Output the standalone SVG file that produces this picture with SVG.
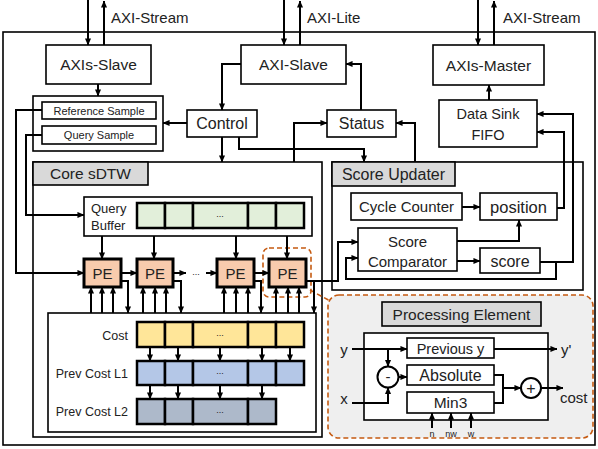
<svg xmlns="http://www.w3.org/2000/svg" width="598" height="449" viewBox="0 0 598 449">
<defs>
<marker id="ah" viewBox="0 0 8 8" refX="7.5" refY="4" markerWidth="7" markerHeight="7" markerUnits="userSpaceOnUse" orient="auto"><path d="M0,0.5 L8,4 L0,7.5z" fill="#000"/></marker>
<style>
.bx{fill:#fff;stroke:#000;stroke-width:1.6}
.lb{fill:#d9d9d9;stroke:#000;stroke-width:1.6}
.cell{stroke:#000;stroke-width:2.5}
.pe{fill:#f8cbad;stroke:#000;stroke-width:3}
.c{fill:none;stroke:#000;stroke-width:2}
.a{marker-end:url(#ah)}
.t{font-family:"Liberation Sans",Arial,sans-serif;fill:#222}
.m{text-anchor:middle}
.e{text-anchor:end}
.dash{fill:none;stroke:#c55a11;stroke-width:1.6;stroke-dasharray:5,3}
</style>
</defs>
<rect x="3" y="32" width="592" height="413" fill="#fff" stroke="#000" stroke-width="1.6"/>
<text class="t" x="111" y="23" font-size="15">AXI-Stream</text>
<text class="t" x="307" y="23" font-size="15">AXI-Lite</text>
<text class="t" x="503" y="23" font-size="15">AXI-Stream</text>

<g id="axis-slave"><rect class="bx" x="46" y="45" width="105" height="39"/><text class="t m" x="98.5" y="70" font-size="15.5">AXIs-Slave</text></g>
<g id="axi-slave"><rect class="bx" x="241" y="45" width="105" height="39"/><text class="t m" x="293.5" y="70" font-size="15.5">AXI-Slave</text></g>
<g id="axis-master"><rect class="bx" x="433" y="45" width="111" height="40"/><text class="t m" x="488.5" y="70.5" font-size="15.5">AXIs-Master</text></g>
<g id="samples">
<rect class="bx" x="33" y="96" width="130" height="55"/>
<rect class="bx" x="42" y="102" width="114" height="17"/><text class="t m" x="99" y="114.5" font-size="11">Reference Sample</text>
<rect class="bx" x="42" y="126" width="114" height="18"/><text class="t m" x="99" y="139" font-size="11">Query Sample</text>
</g>
<g id="control"><rect class="bx" x="187" y="110" width="70" height="27"/><text class="t m" x="222" y="129" font-size="16">Control</text></g>
<g id="status"><rect class="bx" x="327" y="110" width="69" height="27"/><text class="t m" x="361.5" y="129" font-size="16">Status</text></g>
<g id="fifo"><rect class="bx" x="439" y="100" width="98" height="47"/><text class="t m" x="488" y="119" font-size="14.5">Data Sink</text><text class="t m" x="488" y="140" font-size="14.5">FIFO</text></g>

<g id="core-sdtw">
<rect class="bx" x="33" y="162" width="289" height="275"/>
<rect class="lb" x="33" y="162" width="115" height="23"/>
<text class="t m" x="90.5" y="179" font-size="15.5">Core sDTW</text>
</g>
<g id="query-buffer">
<rect class="bx" x="84" y="197" width="228" height="39"/>
<text class="t" x="91" y="212.5" font-size="13">Query</text>
<text class="t" x="91" y="229.5" font-size="13">Buffer</text>
<g fill="#e2efda"><rect class="cell" x="137" y="203" width="28" height="25"/><rect class="cell" x="165" y="203" width="28" height="25"/><rect class="cell" x="193" y="203" width="55" height="25"/><rect class="cell" x="248" y="203" width="28" height="25"/><rect class="cell" x="276" y="203" width="28" height="25"/></g>
<text class="t m" x="220" y="217" font-size="9">...</text>
</g>
<g id="pe1"><rect class="pe" x="84" y="259" width="37" height="28"/><text class="t m" x="102.5" y="278.5" font-size="15">PE</text></g>
<g id="pe2"><rect class="pe" x="137" y="259" width="36" height="28"/><text class="t m" x="155" y="278.5" font-size="15">PE</text></g>
<g id="pe3"><rect class="pe" x="217" y="259" width="37" height="28"/><text class="t m" x="235.5" y="278.5" font-size="15">PE</text></g>
<g id="pe4"><rect class="pe" x="269" y="259" width="37" height="28"/><text class="t m" x="287.5" y="278.5" font-size="15">PE</text></g>
<text class="t m" x="196" y="275" font-size="9">...</text>
<g id="cost-memory">
<rect class="bx" x="48" y="313" width="268" height="119"/>
<text class="t e" x="128" y="339.5" font-size="12.5">Cost</text>
<text class="t e" x="128" y="377.5" font-size="12.5">Prev Cost L1</text>
<text class="t e" x="128" y="415.5" font-size="12.5">Prev Cost L2</text>
<g fill="#ffe699"><rect class="cell" x="137" y="322" width="28" height="25"/><rect class="cell" x="165" y="322" width="28" height="25"/><rect class="cell" x="193" y="322" width="55" height="25"/><rect class="cell" x="248" y="322" width="28" height="25"/><rect class="cell" x="276" y="322" width="28" height="25"/></g>
<g fill="#b4c7e7"><rect class="cell" x="137" y="361" width="28" height="24"/><rect class="cell" x="165" y="361" width="28" height="24"/><rect class="cell" x="193" y="361" width="55" height="24"/><rect class="cell" x="248" y="361" width="28" height="24"/><rect class="cell" x="276" y="361" width="28" height="24"/></g>
<g fill="#adb9ca"><rect class="cell" x="137" y="399" width="28" height="25"/><rect class="cell" x="165" y="399" width="28" height="25"/><rect class="cell" x="193" y="399" width="55" height="25"/><rect class="cell" x="248" y="399" width="28" height="25"/></g>
<text class="t m" x="220" y="336" font-size="9">...</text>
<text class="t m" x="220" y="374" font-size="9">...</text>
<text class="t m" x="220" y="413" font-size="9">...</text>
</g>

<g id="score-updater">
<rect class="bx" x="332" y="162" width="251" height="128"/>
<rect class="lb" x="332" y="162" width="123" height="24"/>
<text class="t m" x="393.5" y="179.5" font-size="16">Score Updater</text>
</g>
<g id="cycle-counter"><rect class="bx" x="351" y="193" width="111" height="27"/><text class="t m" x="406.5" y="212" font-size="15">Cycle Counter</text></g>
<g id="position"><rect class="bx" x="480" y="193" width="77" height="27"/><text class="t m" x="518.5" y="212.5" font-size="16.5">position</text></g>
<g id="score-comparator"><rect class="bx" x="358" y="228" width="99" height="43"/><text class="t m" x="407.5" y="247" font-size="15">Score</text><text class="t m" x="407.5" y="267" font-size="15">Comparator</text></g>
<g id="score"><rect class="bx" x="480" y="248" width="60" height="25"/><text class="t m" x="510" y="266.5" font-size="16">score</text></g>

<g id="pe-detail">
<line class="dash" x1="310" y1="290" x2="332" y2="302"/>
<rect x="328" y="295" width="265" height="143" rx="11" fill="#efefef" stroke="#c55a11" stroke-width="1.6" stroke-dasharray="5,3"/>
<rect class="lb" x="382" y="302" width="159" height="24"/>
<text class="t m" x="461.5" y="319.5" font-size="15.5">Processing Element</text>
<rect class="bx" x="364" y="333" width="184" height="87"/>
<rect class="bx" x="407" y="338" width="87" height="20"/><text class="t m" x="450.5" y="353.5" font-size="14.5">Previous y</text>
<rect class="bx" x="407" y="365" width="87" height="20"/><text class="t m" x="450.5" y="381" font-size="16">Absolute</text>
<rect class="bx" x="407" y="392" width="87" height="21"/><text class="t m" x="450.5" y="408" font-size="15.5">Min3</text>
<circle cx="388" cy="377" r="10.5" fill="#fff" stroke="#000" stroke-width="2"/><text class="t m" x="388" y="382" font-size="15">-</text>
<circle cx="531" cy="388" r="10" fill="#fff" stroke="#000" stroke-width="2"/><text class="t m" x="531" y="393.5" font-size="16">+</text>
<text class="t m" x="344" y="355" font-size="15">y</text>
<text class="t m" x="344" y="404" font-size="15">x</text>
<text class="t" x="561" y="355" font-size="15">y'</text>
<text class="t" x="560" y="403" font-size="15">cost</text>
<text class="t m" x="432" y="437" font-size="9">n</text>
<text class="t m" x="451" y="437" font-size="9">nw</text>
<text class="t m" x="471" y="437" font-size="9">w</text>
</g>
<rect class="dash" x="263" y="248" width="48" height="49" rx="6"/>

<g id="connectors">
<path class="c a" d="M88,0 V45"/><path class="c a" d="M104,45 V1"/>
<path class="c a" d="M284,0 V45"/><path class="c a" d="M300,45 V1"/>
<path class="c a" d="M478,0 V45"/><path class="c a" d="M494,45 V1"/>
<path class="c a" d="M98,84 V96"/>
<path class="c a" d="M241,64 H222 V110"/>
<path class="c a" d="M187,123 H163"/>
<path class="c a" d="M222,137 V162"/>
<path class="c a" d="M239,137 V149 H364 V162"/>
<path class="c a" d="M294,162 V123 H327"/>
<path class="c a" d="M361,110 V64 H346"/>
<path class="c a" d="M415,162 V123 H396"/>
<path class="c a" d="M489,100 V85"/>
<path class="c a" d="M557,208 H564 V132 H537"/>
<path class="c a" d="M540,262 H573 V114 H537"/>
<path class="c a" d="M556,262 V279 H346 V258 H358"/>
<path class="c a" d="M462,207 H480"/>
<path class="c a" d="M457,241 H519 V220"/>
<path class="c a" d="M457,261 H480"/>
<path class="c a" d="M306,281 H338 V242 H358"/>
<path class="c a" d="M42,110 H16 V273 H84"/>
<path class="c a" d="M42,135 H26 V215 H84"/>
<path class="c a" d="M102,236 V259"/><path class="c a" d="M154,236 V259"/><path class="c a" d="M236,236 V259"/><path class="c a" d="M287,236 V259"/>
<path class="c a" d="M121,273 H137"/><path class="c a" d="M173,273 H186"/><path class="c a" d="M206,273 H217"/><path class="c a" d="M254,273 H269"/>
<path class="c a" d="M91,313 V287"/><path class="c a" d="M102,313 V287"/><path class="c a" d="M113,313 V287"/>
<path class="c a" d="M143,313 V287"/><path class="c a" d="M155,313 V287"/><path class="c a" d="M166,313 V287"/>
<path class="c a" d="M224,313 V287"/><path class="c a" d="M236,313 V287"/><path class="c a" d="M248,313 V287"/>
<path class="c a" d="M276,313 V287"/><path class="c a" d="M288,313 V287"/><path class="c a" d="M299,313 V287"/>
<path class="c a" d="M121,281 H128 V313"/><path class="c a" d="M173,281 H181 V313"/><path class="c a" d="M254,281 H261 V313"/><path class="c a" d="M314,281 V313"/>
<path class="c a" d="M150,347 V361"/><path class="c a" d="M178,347 V361"/><path class="c a" d="M220,347 V361"/><path class="c a" d="M262,347 V361"/><path class="c a" d="M290,347 V361"/>
<path class="c a" d="M150,385 V399"/><path class="c a" d="M178,385 V399"/><path class="c a" d="M220,385 V399"/><path class="c a" d="M262,385 V399"/>
<path class="c a" d="M352,349 H407"/>
<path class="c a" d="M388,349 V366.5"/>
<path class="c a" d="M352,403 H388 V387.5"/>
<path class="c a" d="M398.5,377 H407"/>
<path class="c a" d="M494,349 H557"/>
<path class="c" d="M494,375 H503 V403 H494"/>
<path class="c a" d="M503,388 H521"/>
<path class="c a" d="M541,388 H563"/>
<path class="c a" d="M432,428 V413"/><path class="c a" d="M451,428 V413"/><path class="c a" d="M471,428 V413"/>
</g>
</svg>
